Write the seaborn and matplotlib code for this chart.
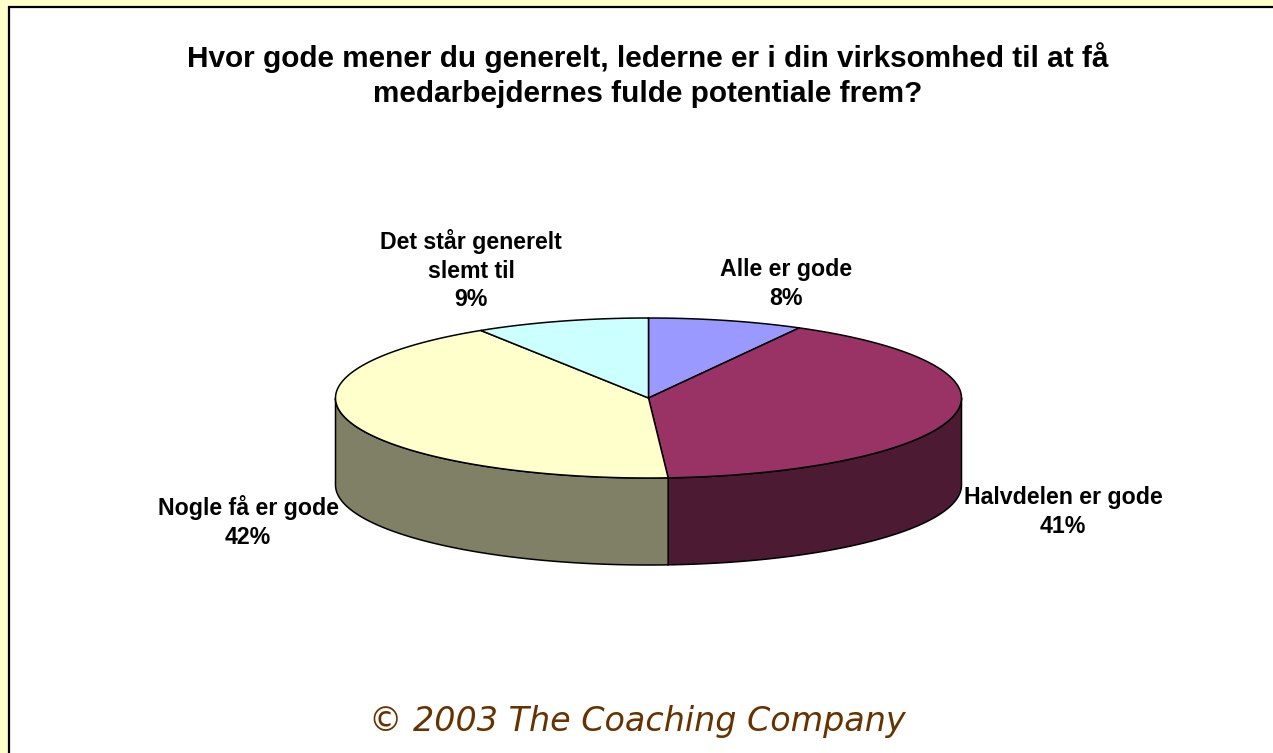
import numpy as np
import matplotlib
matplotlib.use("Agg")
import matplotlib.pyplot as plt
from matplotlib.patches import Polygon, Rectangle
from matplotlib.colors import to_rgb
import seaborn as sns

# ---- data ----
categories = ["Alle er gode", "Halvdelen er gode", "Nogle få er gode", "Det står generelt\nslemt til"]
values = [8, 41, 42, 9]
colors = ["#9999FF", "#993366", "#FFFFCC", "#CCFFFF"]
title = "Hvor gode mener du generelt, lederne er i din virksomhed til at få\nmedarbejdernes fulde potentiale frem?"
footer = "© 2003 The Coaching Company"

# ---- layout (pixel space) ----
W, H = 1273, 753
CX, CY = 648.5, 398.0      # centre of top face
RA, RB = 313.0, 80.0       # ellipse semi-axes
DEPTH = 87.0
label_pos = [(786, 284), (1063, 512), (248, 522), (471, 270)]

sns.set_theme(style="white")
plt.rcParams["font.family"] = ["Liberation Sans", "DejaVu Sans"]

fig = plt.figure(figsize=(W / 100, H / 100), dpi=100, facecolor="#FFFFCC")
ax = fig.add_axes([0, 0, 1, 1])
ax.set_xlim(0, W)
ax.set_ylim(H, 0)
ax.axis("off")

ax.add_patch(Rectangle((9, 7), W + 20, H + 20, facecolor="white",
                       edgecolor="black", linewidth=1.6, zorder=0))


def pt(theta_deg, dz=0.0):
    t = np.deg2rad(theta_deg)
    return CX + RA * np.cos(t), CY - RB * np.sin(t) + dz


def darker(c, f=0.5):
    r, g, b = to_rgb(c)
    return (r * f, g * f, b * f)


total = float(sum(values))
fracs = np.array(values) / total
cum = np.concatenate([[0], np.cumsum(fracs)])
# slices go clockwise from 12 o'clock
starts = 90 - cum[:-1] * 360
ends = 90 - cum[1:] * 360   # ends < starts

# side walls (visible for angles in [180, 360])
for s, e, c in zip(starts, ends, colors):
    lo, hi = e, s  # angular range [lo, hi]
    for shift in (-720, -360, 0, 360):
        a0 = max(lo + shift, 180)
        a1 = min(hi + shift, 360)
        if a1 > a0:
            ts = np.linspace(a0, a1, 120)
            top = [pt(t) for t in ts]
            bot = [pt(t, DEPTH) for t in ts[::-1]]
            ax.add_patch(Polygon(top + bot, closed=True, facecolor=darker(c),
                                 edgecolor="black", linewidth=1.1, zorder=2))

# top face wedges
for s, e, c in zip(starts, ends, colors):
    ts = np.linspace(s, e, 200)
    verts = [(CX, CY)] + [pt(t) for t in ts]
    ax.add_patch(Polygon(verts, closed=True, facecolor=c, edgecolor="black",
                         linewidth=1.1, zorder=3, joinstyle="round"))

# labels
for (lx, ly), cat, v in zip(label_pos, categories, values):
    ax.text(lx, ly, f"{cat}\n{v}%", ha="center", va="center",
            fontsize=16.7, fontweight="bold", linespacing=1.3, color="black")

ax.text(648, 75, title, ha="center", va="center", fontsize=21.4,
        fontweight="bold", linespacing=1.35, color="black")

ax.text(637, 722, footer, ha="center", va="center", fontsize=24,
        fontstyle="italic", color="#663300", family=["DejaVu Sans"])

fig.savefig("out.png", dpi=100, facecolor=fig.get_facecolor())
